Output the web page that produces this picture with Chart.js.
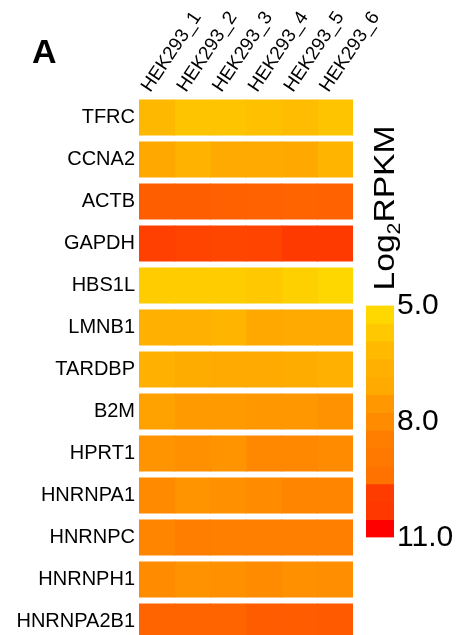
<!DOCTYPE html>
<html>
<head>
<meta charset="utf-8">
<script src="https://cdn.jsdelivr.net/npm/chart.js@4.4.1/dist/chart.umd.min.js"></script>
<style>
html, body { margin: 0; padding: 0; background: #fff; overflow: hidden; }
#heat { position: absolute; left: 0; top: 0; }
#bar { position: absolute; left: 355px; top: 0; }
</style>
</head>
<body>
<canvas id="heat" width="410" height="660"></canvas>
<canvas id="bar" width="105" height="635"></canvas>
<script>
// rows and columns of the heatmap
var genes = ["TFRC", "CCNA2", "ACTB", "GAPDH", "HBS1L", "LMNB1", "TARDBP",
	"B2M", "HPRT1", "HNRNPA1", "HNRNPC", "HNRNPH1", "HNRNPA2B1"];
var samples = ["HEK293_1", "HEK293_2", "HEK293_3", "HEK293_4", "HEK293_5", "HEK293_6"];

// Log2 RPKM per sample, one value per gene (same order as genes)
var hek293_1 = [6.24, 6.88, 8.99, 9.63, 5.44, 6.56, 6.56, 7.12, 7.68, 8.04, 8.17, 8.00, 8.86];
var hek293_2 = [5.76, 6.48, 8.99, 9.54, 5.44, 6.56, 6.72, 7.44, 7.84, 7.68, 8.30, 7.76, 8.86];
var hek293_3 = [5.76, 6.80, 8.94, 9.50, 5.44, 6.40, 6.80, 7.44, 7.68, 7.84, 8.26, 7.84, 8.86];
var hek293_4 = [5.92, 6.80, 8.90, 9.54, 5.60, 6.88, 6.80, 7.52, 8.09, 8.00, 8.26, 8.00, 9.03];
var hek293_5 = [6.08, 6.85, 8.86, 9.76, 5.28, 6.80, 6.72, 7.52, 8.09, 8.17, 8.26, 7.84, 9.03];
var hek293_6 = [5.76, 6.40, 8.90, 9.76, 5.00, 6.80, 6.56, 7.76, 8.00, 8.17, 8.26, 7.92, 9.07];
var sampleValues = [hek293_1, hek293_2, hek293_3, hek293_4, hek293_5, hek293_6];

// colour key
var scaleMin = 5, scaleMid = 8, scaleMax = 11;
var keyTicks = [5, 8, 11];
var keyColors = ["#FFD800", "#FFC800", "#FFBA00", "#FFB000", "#FFAA00", "#FF9800", "#FF8C00",
	"#FF7E00", "#FF7800", "#FF7200", "#FF3C00", "#FF3800", "#FF0000"];

var FONT = "'Liberation Sans', Arial, sans-serif";

// gold -> darkorange -> red
function colorFor(v) {
	var a, b, t;
	if (v <= scaleMid) {
		a = [255, 215, 0]; b = [255, 140, 0];
		t = (v - scaleMin) / (scaleMid - scaleMin);
	} else {
		a = [255, 140, 0]; b = [255, 0, 0];
		t = (v - scaleMid) / (scaleMax - scaleMid);
	}
	t = Math.max(0, Math.min(1, t));
	var c = a.map(function(x, i) { return Math.round(x + (b[i] - x) * t); });
	return "rgb(" + c.join(",") + ")";
}

var panelLetter = {
	id: "panelLetter",
	afterDraw: function(chart) {
		var ctx = chart.ctx;
		ctx.save();
		ctx.fillStyle = "#000";
		ctx.font = "bold 34px " + FONT;
		ctx.textBaseline = "alphabetic";
		ctx.fillText("A", 32, 63);
		ctx.restore();
	}
};

new Chart(document.getElementById("heat"), {
	type: "bar",
	data: {
		labels: genes,
		datasets: sampleValues.map(function(vals, j) {
			return {
				label: samples[j],
				data: vals.map(function() { return 1; }),
				backgroundColor: vals.map(colorFor),
				borderWidth: 0,
				inflateAmount: 0.5,   // hides seams between cells
				barPercentage: 35 / 42,
				categoryPercentage: 1
			};
		})
	},
	options: {
		indexAxis: "y",
		responsive: false,
		animation: false,
		layout: { padding: { left: 0, top: 0, right: 57, bottom: 17.5 } },
		plugins: { legend: { display: false }, tooltip: { enabled: false } },
		scales: {
			x: { type: "linear", stacked: true, min: 0, max: 6, display: false },
			xTop: {
				type: "category",
				labels: samples,
				position: "top",
				offset: true,
				grid: { display: false, drawTicks: false },
				border: { display: false },
				ticks: {
					autoSkip: false,
					minRotation: 56,
					maxRotation: 56,
					labelOffset: 8,
					padding: 0,
					color: "#000",
					font: { family: FONT, size: 19 }
				},
				afterFit: function(s) {
					s.height = 96.5;
					s.paddingLeft = 0;
					s.paddingRight = 0;
				}
			},
			y: {
				type: "category",
				stacked: true,
				grid: { display: false, drawTicks: false },
				border: { display: false },
				ticks: { padding: 4, color: "#000", font: { family: FONT, size: 20 } },
				afterFit: function(s) {
					s.width = 139;
					s.paddingTop = 0;
					s.paddingBottom = 0;
				}
			}
		}
	},
	plugins: [panelLetter]
});

var keyTitle = {
	id: "keyTitle",
	afterDraw: function(chart) {
		var ctx = chart.ctx;
		ctx.save();
		ctx.fillStyle = "#000";
		ctx.translate(38.5, 208);
		ctx.rotate(-Math.PI / 2);
		ctx.scale(1.12, 1);
		ctx.textBaseline = "alphabetic";
		var big = "30px " + FONT, small = "19px " + FONT;
		ctx.font = big;
		var w1 = ctx.measureText("Log").width, w3 = ctx.measureText("RPKM").width;
		ctx.font = small;
		var w2 = ctx.measureText("2").width;
		var x = -(w1 + w2 + w3) / 2;
		ctx.font = big;
		ctx.fillText("Log", x, 0);
		ctx.font = small;
		ctx.fillText("2", x + w1, 6);
		ctx.font = big;
		ctx.fillText("RPKM", x + w1 + w2, 0);
		ctx.restore();
	}
};

var keyStep = (scaleMax - scaleMin) / keyColors.length;

new Chart(document.getElementById("bar"), {
	type: "bar",
	data: {
		labels: ["key"],
		datasets: keyColors.map(function(c, i) {
			return {
				data: [[scaleMin + i * keyStep, scaleMin + (i + 1) * keyStep]],
				backgroundColor: c,
				borderWidth: 0,
				grouped: false,
				barPercentage: 1,
				categoryPercentage: 1
			};
		})
	},
	options: {
		responsive: false,
		animation: false,
		layout: { padding: { left: 11, top: 305.5, right: 0, bottom: 97.5 } },
		plugins: { legend: { display: false }, tooltip: { enabled: false } },
		scales: {
			x: { display: false },
			y: {
				type: "linear",
				position: "right",
				reverse: true,
				min: scaleMin,
				max: scaleMax,
				grid: { display: false, drawTicks: false },
				border: { display: false },
				afterBuildTicks: function(s) {
					s.ticks = keyTicks.map(function(v) { return { value: v }; });
				},
				ticks: {
					padding: 3,
					color: "#000",
					font: { family: FONT, size: 30 },
					callback: function(v) { return Number(v).toFixed(1); }
				},
				afterFit: function(s) { s.width = 66; }
			}
		}
	},
	plugins: [keyTitle]
});
</script>
</body>
</html>
